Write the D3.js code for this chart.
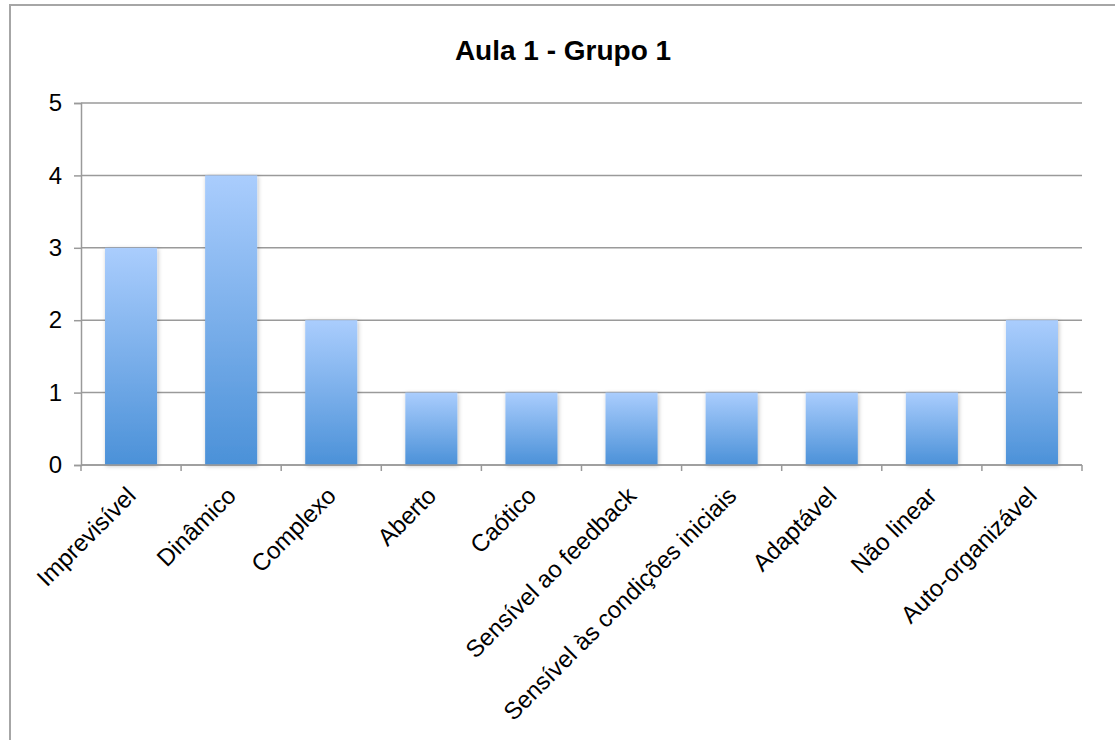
<!DOCTYPE html>
<html>
<head>
<meta charset="utf-8">
<script src="https://cdn.jsdelivr.net/npm/d3@7"></script>
<style>
  html, body { margin: 0; padding: 0; background: #fff; }
  svg { display: block; font-family: "Liberation Sans", Arial, sans-serif; }
</style>
</head>
<body>
<svg id="chart" width="1115" height="740"></svg>
<script>
// Chart content
const title = "Aula 1 - Grupo 1";
const categories = [
  "Imprevisível", "Dinâmico", "Complexo", "Aberto", "Caótico",
  "Sensível ao feedback", "Sensível às condições iniciais",
  "Adaptável", "Não linear", "Auto-organizável"
];
const values = [3, 4, 2, 1, 1, 1, 1, 1, 1, 2];
const yTicks = [0, 1, 2, 3, 4, 5];

const svg = d3.select("#chart");
const W = 1115, H = 740;
const plot = { left: 81, right: 1082, top: 103, bottom: 465 };

// Outer frame of the chart area (runs off the right and bottom edges)
svg.append("rect")
  .attr("x", 10).attr("y", 5)
  .attr("width", W + 20).attr("height", H + 20)
  .attr("fill", "#fff")
  .attr("stroke", "#a6a6a6").attr("stroke-width", 2);

const defs = svg.append("defs");
const grad = defs.append("linearGradient")
  .attr("id", "barFill").attr("x1", 0).attr("y1", 0).attr("x2", 0).attr("y2", 1);
grad.append("stop").attr("offset", "0%").attr("stop-color", "#aacdfd");
grad.append("stop").attr("offset", "100%").attr("stop-color", "#4b91d8");

const shadow = defs.append("filter").attr("id", "barShadow")
  .attr("x", "-20%").attr("y", "-10%").attr("width", "140%").attr("height", "120%");
shadow.append("feDropShadow")
  .attr("dx", 1).attr("dy", 1).attr("stdDeviation", 2)
  .attr("flood-color", "#000").attr("flood-opacity", 0.25);

const x = d3.scaleBand()
  .domain(categories)
  .range([plot.left, plot.right])
  .paddingInner(0.48)
  .paddingOuter(0.24);

const y = d3.scaleLinear()
  .domain([0, 5])
  .range([plot.bottom, plot.top]);

const gridColor = "#9a9a9a";

// Horizontal gridlines
svg.append("g").selectAll("line")
  .data(yTicks)
  .join("line")
  .attr("x1", plot.left).attr("x2", plot.right)
  .attr("y1", d => y(d)).attr("y2", d => y(d))
  .attr("stroke", gridColor).attr("stroke-width", 1.5);

// Y axis
const yAxis = d3.axisLeft(y).tickValues(yTicks).tickSize(7).tickPadding(12).tickFormat(d3.format("d"));
const gy = svg.append("g").attr("transform", `translate(${plot.left},0)`).call(yAxis);
gy.select(".domain").attr("stroke", gridColor).attr("stroke-width", 1.5);
gy.selectAll(".tick line").attr("stroke", gridColor).attr("stroke-width", 1.5);
gy.selectAll(".tick text")
  .attr("fill", "#000")
  .style("font-size", "24px")
  .style("font-family", "'Liberation Sans', Arial, sans-serif");

// Bars
svg.append("g").selectAll("rect")
  .data(categories.map((c, i) => ({ c, v: values[i] })))
  .join("rect")
  .attr("x", d => x(d.c))
  .attr("y", d => y(d.v))
  .attr("width", x.bandwidth())
  .attr("height", d => y(0) - y(d.v))
  .attr("fill", "url(#barFill)")
  .attr("filter", "url(#barShadow)");

// X axis baseline and category boundary ticks
svg.append("line")
  .attr("x1", plot.left).attr("x2", plot.right)
  .attr("y1", y(0)).attr("y2", y(0))
  .attr("stroke", gridColor).attr("stroke-width", 1.5);
const step = x.step();
svg.append("g").selectAll("line")
  .data(d3.range(categories.length + 1))
  .join("line")
  .attr("x1", i => plot.left + i * step).attr("x2", i => plot.left + i * step)
  .attr("y1", y(0)).attr("y2", y(0) + 6)
  .attr("stroke", gridColor).attr("stroke-width", 1.5);

// Rotated category labels
svg.append("g").selectAll("text")
  .data(categories)
  .join("text")
  .attr("transform", d => `translate(${x(d) + x.bandwidth() / 2 - 9},482) rotate(-45)`)
  .attr("text-anchor", "end")
  .attr("dy", "0.9em")
  .style("font-size", "24px")
  .attr("fill", "#000")
  .text(d => d);

// Title
svg.append("text")
  .attr("x", 563).attr("y", 60)
  .attr("text-anchor", "middle")
  .style("font-size", "28px")
  .style("font-weight", "bold")
  .attr("fill", "#000")
  .text(title);
</script>
</body>
</html>
